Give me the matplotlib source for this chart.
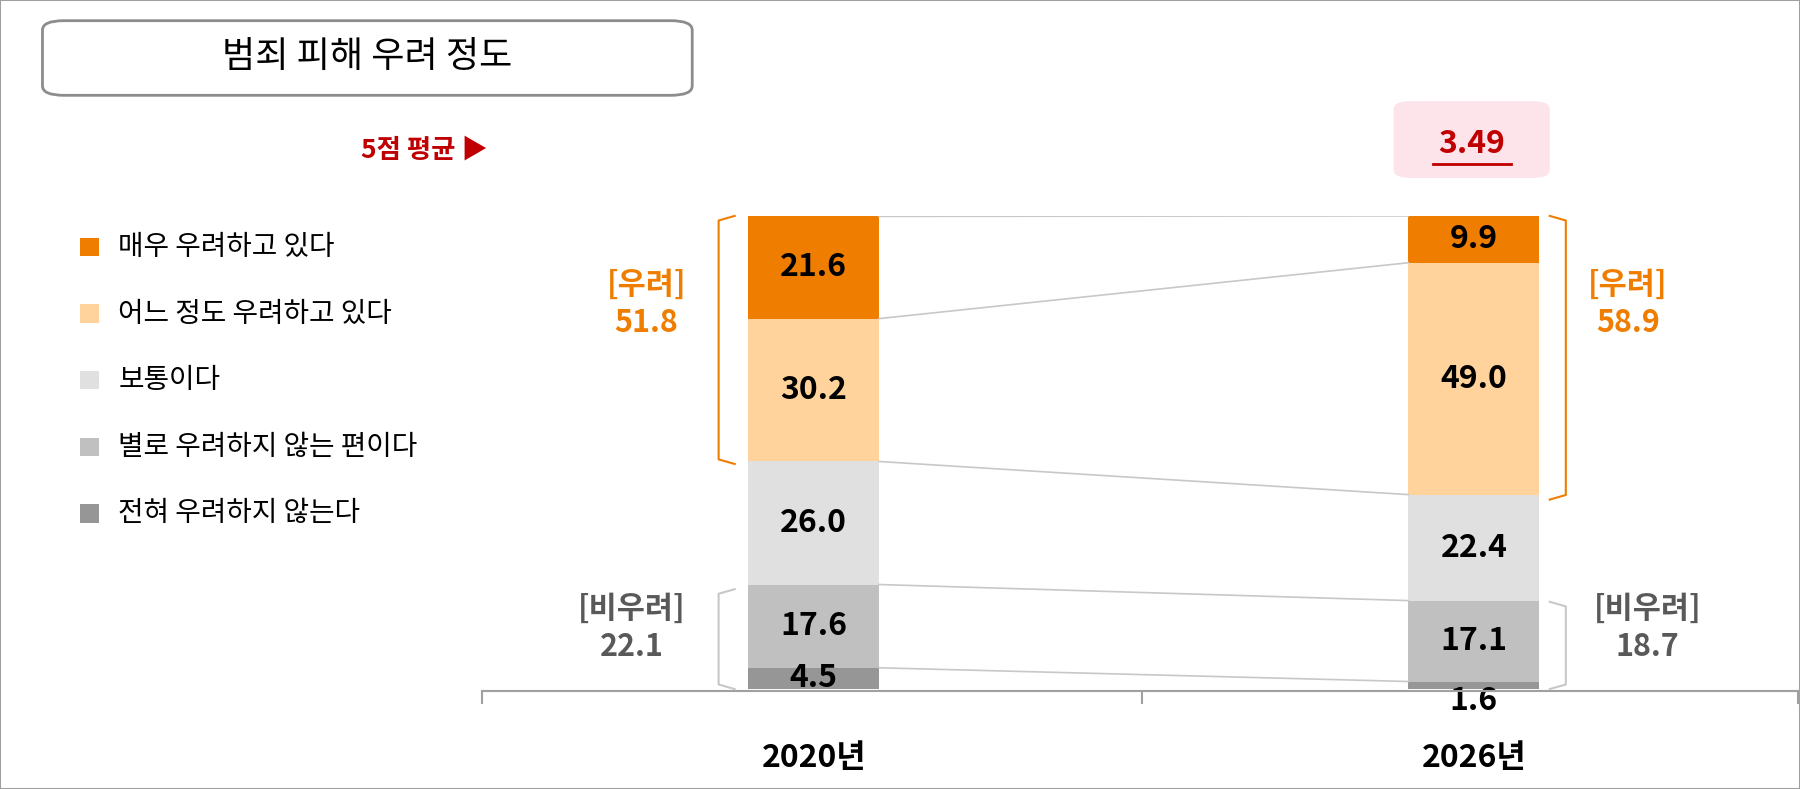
import numpy as np
import matplotlib.pyplot as plt
from matplotlib.patches import FancyBboxPatch, Rectangle
from matplotlib.lines import Line2D

plt.rcParams['font.family'] = ['Noto Sans CJK KR', 'DejaVu Sans']

years = ["2020년", "2026년"]
categories = ["전혀 우려하지 않는다", "별로 우려하지 않는 편이다", "보통이다",
              "어느 정도 우려하고 있다", "매우 우려하고 있다"]
values_2020 = [4.5, 17.6, 26.0, 30.2, 21.6]
values_2026 = [1.6, 17.1, 22.4, 49.0, 9.9]
concern = ["51.8", "58.9"]
no_concern = ["22.1", "18.7"]
mean_2026 = "3.49"
colors = ["#969696", "#c0c0c0", "#e0e0e0", "#ffd39b", "#ef7d00"]

W, H = 1568, 687
def fx(p): return p / W
def fy(p): return 1 - p / H

fig = plt.figure(figsize=(18, 7.89), dpi=100)
fig.add_artist(Rectangle((0, 0), 1, 1, transform=fig.transFigure, fill=False, ec="#a0a0a0", lw=1.5))

ax = fig.add_axes([fx(420), fy(600), fx(1568 - 420), (600 - 188) / H])
ax.set_xlim(0, 2)
ax.set_ylim(0, 100)
ax.axis("off")

xs = [0.503, 1.505]
bw = 0.199
data = [values_2020, values_2026]
for x, vals in zip(xs, data):
    bottom = 0
    for v, c in zip(vals, colors):
        ax.bar(x, v, bw, bottom=bottom, color=c, lw=0)
        y = bottom + v / 2 if v >= 3 else bottom - 2.5
        ax.text(x, y, f"{v:.1f}", ha="center", va="center", fontsize=23, fontweight="bold", color="black")
        bottom += v

# connecting lines
c1 = np.cumsum(values_2020)
c2 = np.cumsum(values_2026)
for a, b in zip(c1, c2):
    ax.plot([xs[0] + bw / 2, xs[1] - bw / 2], [a, b], color="#c8c8c8", lw=1.2)

# axis baseline
fig.add_artist(Line2D([fx(420), fx(1568)], [fy(602), fy(602)], color="#a0a0a0", lw=1.5))
for t in [420, 995, 1566]:
    fig.add_artist(Line2D([fx(t), fx(t)], [fy(602), fy(612)], color="#a0a0a0", lw=1.5))

for x, yr in zip([709, 1284], years):
    fig.text(fx(x), fy(660), yr, ha="center", va="center", fontsize=23, fontweight="bold")

def bracket(x0, x1, y0, y1, color):
    xs_ = [fx(x1), fx(x0), fx(x0), fx(x1)]
    ys_ = [fy(y0), fy(y0 + 4), fy(y1 - 4), fy(y1)]
    fig.add_artist(Line2D(xs_, ys_, color=color, lw=1.5, solid_joinstyle="round"))

orange = "#ef7d00"
gray_t = "#595959"
bracket(626, 640, 188, 404, orange)
bracket(1364, 1350, 188, 435, orange)
bracket(626, 640, 513, 600, "#c8c8c8")
bracket(1364, 1350, 524, 600, "#c8c8c8")

lab = dict(ha="center", va="center", fontsize=22, fontweight="bold", linespacing=1.25)
fig.text(fx(563), fy(265), "[우려]\n" + concern[0], color=orange, **lab)
fig.text(fx(1418), fy(265), "[우려]\n" + concern[1], color=orange, **lab)
fig.text(fx(550), fy(547), "[비우려]\n" + no_concern[0], color=gray_t, **lab)
fig.text(fx(1435), fy(547), "[비우려]\n" + no_concern[1], color=gray_t, **lab)

# title box
fig.add_artist(FancyBboxPatch((fx(37), fy(83)), fx(603 - 37), (83 - 18) / H,
                              boxstyle="round,pad=0,rounding_size=0.012", transform=fig.transFigure,
                              fc="white", ec="#8c8c8c", lw=2))
fig.text(fx(320), fy(50), "범죄 피해 우려 정도", ha="center", va="center", fontsize=26)

# mean
fig.text(fx(425), fy(131), "5점 평균 ▶", ha="right", va="center", fontsize=19, fontweight="bold", color="#c00000")
fig.add_artist(FancyBboxPatch((fx(1214), fy(155)), fx(1350 - 1214), (155 - 88) / H,
                              boxstyle="round,pad=0,rounding_size=0.01", transform=fig.transFigure,
                              fc="#fde4ea", ec="none"))
fig.text(fx(1282), fy(125), mean_2026, ha="center", va="center", fontsize=23, fontweight="bold", color="#c00000")
fig.add_artist(Line2D([fx(1248), fx(1316)], [fy(143), fy(143)], color="#c00000", lw=2))

# legend
for i, (cat, c) in enumerate(zip(categories[::-1], colors[::-1])):
    y = 215 + i * 58
    fig.add_artist(Rectangle((fx(70), fy(y + 8)), fx(16), 16 / H, transform=fig.transFigure, fc=c, ec="none"))
    fig.text(fx(103), fy(y), cat, ha="left", va="center", fontsize=20)

fig.savefig("out.png", dpi=100)
